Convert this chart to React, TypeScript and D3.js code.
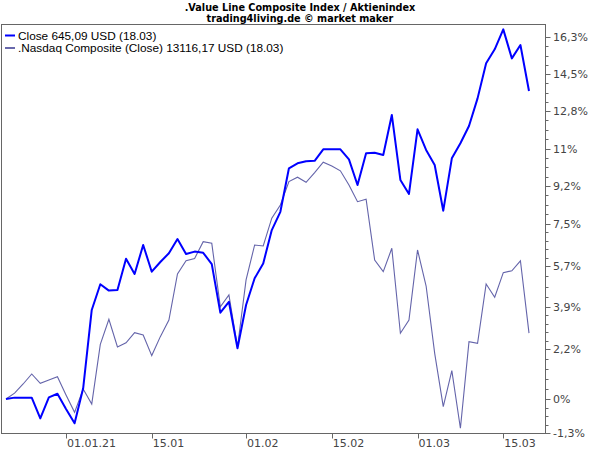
import React from 'react';
import * as d3 from 'd3';

// y axis: tick values (percent) and their labels
const yTickValues = [-1.3, 0, 2.2, 3.9, 5.7, 7.5, 9.2, 11, 12.8, 14.5, 16.3];
const yTickLabels = ['-1,3%', '0%', '2,2%', '3,9%', '5,7%', '7,5%', '9,2%', '11%', '12,8%', '14,5%', '16,3%'];

// x axis: trading-day index of each date label
const xTickIndex = [7, 17, 28, 38, 48, 58];
const xTickLabels = ['01.01.21', '15.01', '01.02', '15.02', '01.03', '15.03'];

// % change since start, one value per trading day
const closeSeries = [
  0, 0.06, 0.06, 0.06, -0.74, 0.07, 0.23, -0.38, -0.93, 0.47,
  3.78, 4.9, 4.62, 4.65, 6.01, 5.35, 6.59, 5.45, 5.87, 6.24,
  6.84, 6.21, 6.31, 6.26, 5.78, 3.67, 4.13, 2.23, 3.99, 5.16,
  5.81, 7.22, 8.03, 10.05, 10.29, 10.39, 10.41, 10.96, 10.96, 10.96,
  10.48, 9.25, 10.77, 10.8, 10.69, 12.61, 9.49, 8.84, 11.92, 10.93,
  10.21, 8.08, 10.53, 11.25, 12.08, 13.38, 15.02, 15.7, 16.67, 15.26,
  15.91, 13.72,
];
const nasdaqSeries = [
  0, 0.26, 0.66, 1.1, 0.69, 0.84, 0.98, 0.18, -0.51, 0.44,
  -0.19, 2.39, 3.4, 2.28, 2.45, 2.86, 2.77, 1.91, 2.7, 3.37,
  5.35, 5.92, 6.02, 6.73, 6.66, 3.91, 4.43, 2.28, 5.09, 6.59,
  6.55, 7.74, 8.34, 9.41, 9.62, 9.38, 9.84, 10.34, 10.16, 9.93,
  9.25, 8.49, 8.6, 5.95, 5.45, 6.45, 2.84, 3.37, 6.38, 4.82,
  2.01, -0.29, 1.25, -1.12, 2.5, 2.43, 4.91, 4.33, 5.41, 5.49,
  5.92, 2.84,
];

const legendItems = [
  { label: 'Close 645,09 USD (18.03)', color: '#0000ff', width: 2 },
  { label: '.Nasdaq Composite (Close) 13116,17 USD (18.03)', color: '#6868ac', width: 2 },
];

const W = 600;
const H = 450;
const frame = { left: 1.5, top: 24.5, right: 545.5, bottom: 433.5 };

export default function App() {
  const x = d3.scaleLinear().domain([0, closeSeries.length - 1]).range([6, 529]);
  // the source axis spaces its labels unevenly, so map tick to tick
  const y = d3.scaleLinear()
    .domain(yTickValues)
    .range([433, 399, 349, 307, 266, 223.5, 186, 148.5, 111, 74, 37]);

  const line = d3.line<number>()
    .x((_, i) => x(i))
    .y(d => y(d));

  // minor ticks: split each labelled interval in steps of about 9px
  const minor: number[] = [];
  for (let k = 0; k < yTickValues.length - 1; k++) {
    const a = yTickValues[k], b = yTickValues[k + 1];
    const n = Math.max(1, Math.round(Math.abs(y(a) - y(b)) / 9.3));
    for (let j = 1; j < n; j++) minor.push(a + ((b - a) * j) / n);
  }

  const axisColor = '#666';
  const font = 'DejaVu Sans, Verdana, sans-serif';

  return (
    <div style={{ position: 'absolute', left: 0, top: 0 }}>
      <svg width={W} height={H} style={{ display: 'block', background: '#fff' }}>
        <text x={300} y={11} textAnchor="middle" fontFamily={font} fontWeight="bold" fontSize={9.7} fill="#000">
          .Value Line Composite Index / Aktienindex
        </text>
        <text x={300} y={22} textAnchor="middle" fontFamily={font} fontWeight="bold" fontSize={9.7} fill="#000">
          trading4living.de © market maker
        </text>

        <rect x={frame.left} y={frame.top} width={frame.right - frame.left} height={frame.bottom - frame.top}
          fill="none" stroke={axisColor} strokeWidth={1} />

        {/* y axis on the right */}
        {minor.map((v, i) => (
          <line key={'m' + i} x1={frame.right} x2={frame.right + 3} y1={Math.round(y(v)) + 0.5} y2={Math.round(y(v)) + 0.5}
            stroke={axisColor} />
        ))}
        {yTickValues.map((v, i) => (
          <g key={'y' + i}>
            <line x1={frame.right} x2={frame.right + 5} y1={Math.round(y(v)) + 0.5} y2={Math.round(y(v)) + 0.5} stroke={axisColor} />
            <text x={553} y={y(v) + 4} fontFamily={font} fontSize={11} fill="#444">{yTickLabels[i]}</text>
          </g>
        ))}

        {/* x axis */}
        {xTickIndex.map((idx, i) => (
          <g key={'x' + i}>
            <line x1={Math.round(x(idx)) + 0.5} x2={Math.round(x(idx)) + 0.5} y1={frame.bottom} y2={frame.bottom + 5} stroke={axisColor} />
            <text x={x(idx) + 1} y={447} fontFamily={font} fontSize={11} fill="#444">{xTickLabels[i]}</text>
          </g>
        ))}

        <path d={line(nasdaqSeries) || ''} fill="none" stroke="#6464aa" strokeWidth={1.1} />
        <path d={line(closeSeries) || ''} fill="none" stroke="#0000ff" strokeWidth={2} strokeLinejoin="round" />

        {legendItems.map((it, i) => (
          <g key={'l' + i}>
            <line x1={5} x2={15} y1={35.5 + i * 12.5} y2={35.5 + i * 12.5} stroke={it.color} strokeWidth={it.width} />
            <text x={18} y={39.5 + i * 12.5} fontFamily="Liberation Sans, Arial, sans-serif" fontSize={11.8} fill="#000">
              {it.label}
            </text>
          </g>
        ))}
      </svg>
    </div>
  );
}
